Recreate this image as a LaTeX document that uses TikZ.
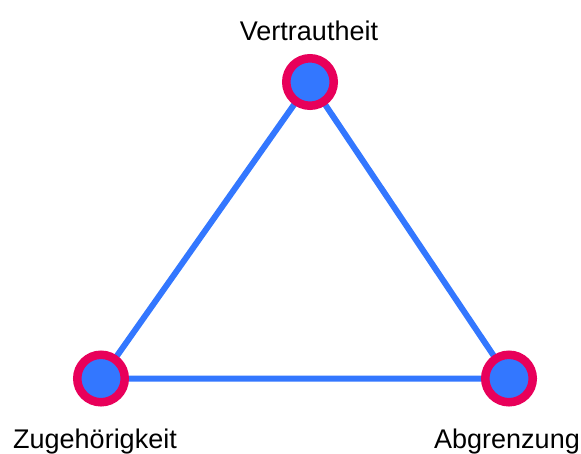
\documentclass[tikz,border=0pt]{standalone}
\usepackage{fontspec}
\setmainfont{Liberation Sans}
\usetikzlibrary{positioning,backgrounds}
\definecolor{TriBlue}{HTML}{3377FF}
\definecolor{TriRing}{HTML}{E8005A}
\tikzset{
  edge/.style={line width=6pt, draw=TriBlue},
  corner/.style={circle, draw=TriRing, fill=TriBlue, line width=8.5pt,
                 minimum size=47.5pt, inner sep=0pt},
  tag/.style={font=\fontsize{27}{32}\selectfont, inner sep=0pt, anchor=base},
}
\begin{document}
\begin{tikzpicture}[x=1pt,y=-1pt]
    \useasboundingbox (0,0) rectangle (581,453);
    \node[corner] (vert) at (310,82) {};
    \node[corner] (zuge) at (101,378.5) {};
    \node[corner] (abgr) at (509,378.5) {};
    \node[tag] (vertlab) at (309,40) {Vertrautheit};
    \node[tag] (zugelab) at (95,448) {Zugehörigkeit};
    \node[tag] (abgrlab) at (507,448) {Abgrenzung};
    % edges go behind the circles
    \begin{scope}[on background layer]
      \draw[edge] (vert.center) -- (zuge.center) -- (abgr.center) -- cycle;
    \end{scope}
  \end{tikzpicture}
\end{document}
